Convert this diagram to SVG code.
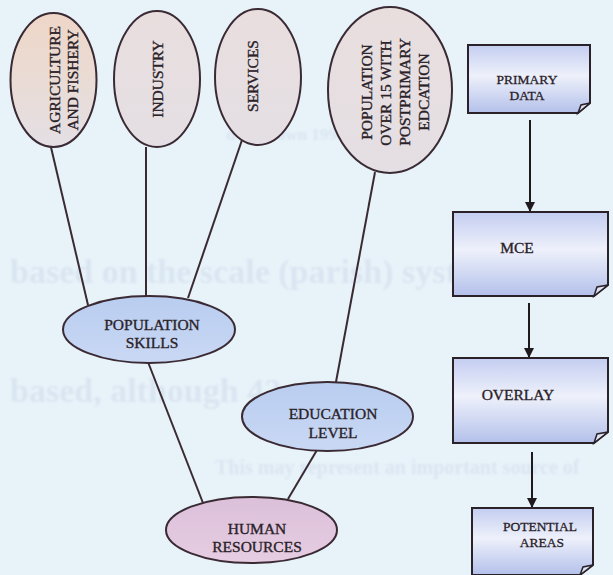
<svg xmlns="http://www.w3.org/2000/svg" width="613" height="575" viewBox="0 0 613 575">
  <defs>
    <linearGradient id="gTop" x1="0" y1="0" x2="0" y2="1">
      <stop offset="0" stop-color="#e9dede"/>
      <stop offset="1" stop-color="#e4dfe4"/>
    </linearGradient>
    <linearGradient id="gAgri" x1="0" y1="0" x2="0" y2="1">
      <stop offset="0" stop-color="#eed6c8"/>
      <stop offset="0.45" stop-color="#eadbd3"/>
      <stop offset="1" stop-color="#e4dfe5"/>
    </linearGradient>
    <linearGradient id="gBlue" x1="0" y1="0" x2="0" y2="1">
      <stop offset="0" stop-color="#b9cdf0"/>
      <stop offset="1" stop-color="#c9d8f4"/>
    </linearGradient>
    <linearGradient id="gPink" x1="0" y1="0" x2="0" y2="1">
      <stop offset="0" stop-color="#dcc0da"/>
      <stop offset="1" stop-color="#e6cde2"/>
    </linearGradient>
    <linearGradient id="gBox" x1="0" y1="0" x2="0" y2="1">
      <stop offset="0" stop-color="#c3cdf0"/>
      <stop offset="0.45" stop-color="#eef1fb"/>
      <stop offset="1" stop-color="#b3c0ea"/>
    </linearGradient>
    <filter id="soft" x="-5%" y="-20%" width="110%" height="140%">
      <feGaussianBlur stdDeviation="1.2"/>
    </filter>
    <marker id="arrow" viewBox="0 0 10 10" refX="10" refY="5" markerWidth="10" markerHeight="10" markerUnits="userSpaceOnUse" orient="auto">
      <path d="M0,0 L10,5 L0,10 Z" fill="#1e1a1e"/>
    </marker>
    <style>
      .bg { fill: #e8f2f9; }
      .ghost { font-family: "Liberation Serif", serif; font-size: 34px; font-weight: bold; fill: #d9e5f1; }
      .node { stroke: #3a2a33; stroke-width: 2; }
      .lbl { font-family: "Liberation Serif", "Times New Roman", serif; font-size: 15.5px; fill: #2a2228; stroke: #2a2228; stroke-width: 0.35; text-anchor: middle; }
      .blbl { font-family: "Liberation Serif", "Times New Roman", serif; font-size: 13.5px; fill: #2a2228; stroke: #2a2228; stroke-width: 0.3; text-anchor: middle; }
      .link { stroke: #3a2a33; stroke-width: 2; fill: none; }
      .flow { stroke: #1e1a1e; stroke-width: 2; fill: none; marker-end: url(#arrow); }
      .doc { fill: url(#gBox); stroke: #2a2228; stroke-width: 2; }
      .fold { fill: #dfe4f6; stroke: #2a2228; stroke-width: 1.5; }
    </style>
  </defs>

  <!-- paper -->
  <rect class="bg" x="0" y="0" width="613" height="575"/>

  <!-- faint printed text showing through the page -->
  <g id="page-text" filter="url(#soft)">
    <text class="ghost" x="226" y="140" style="font-size:17px">d &amp; Brown 1998).</text>
    <text class="ghost" x="10" y="283">based on the scale (parish) system</text>
    <text class="ghost" x="10" y="402">based, although 42</text>
    <text class="ghost" x="215" y="474" style="font-size:20px">This may represent an important source of</text>
  </g>

  <!-- connectors -->
  <g id="connectors">
    <line class="link" x1="50" y1="143" x2="88" y2="305"/>
    <line class="link" x1="146" y1="147" x2="146" y2="296"/>
    <line class="link" x1="242" y1="140" x2="188" y2="298"/>
    <line class="link" x1="375" y1="172" x2="336" y2="382"/>
    <line class="link" x1="148" y1="362" x2="203" y2="503"/>
    <line class="link" x1="317" y1="450" x2="288" y2="499"/>
    <line class="flow" x1="530" y1="120" x2="530" y2="212"/>
    <line class="flow" x1="529" y1="303" x2="529" y2="358"/>
    <line class="flow" x1="532" y1="452" x2="532" y2="508"/>
  </g>

  <!-- sector ellipses -->
  <g id="agriculture">
    <ellipse class="node" cx="53.5" cy="80" rx="43" ry="67" fill="url(#gAgri)"/>
    <text class="lbl" transform="translate(60,80) rotate(-90)">AGRICULTURE</text>
    <text class="lbl" transform="translate(78,80) rotate(-90)">AND FISHERY</text>
  </g>
  <g id="industry">
    <ellipse class="node" cx="157" cy="79" rx="43" ry="68" fill="url(#gTop)"/>
    <text class="lbl" transform="translate(163,79) rotate(-90)">INDUSTRY</text>
  </g>
  <g id="services">
    <ellipse class="node" cx="258" cy="77" rx="43" ry="68" fill="url(#gTop)"/>
    <text class="lbl" transform="translate(258,76) rotate(-90)">SERVICES</text>
  </g>
  <g id="postprimary">
    <ellipse class="node" cx="390" cy="90" rx="62" ry="83" fill="url(#gTop)"/>
    <text class="lbl" transform="translate(372,92) rotate(-90)">POPULATION</text>
    <text class="lbl" transform="translate(391,93) rotate(-90)">OVER 15 WITH</text>
    <text class="lbl" transform="translate(410,92) rotate(-90)">POSTPRIMARY</text>
    <text class="lbl" transform="translate(429,92) rotate(-90)">EDCATION</text>
  </g>

  <!-- aggregate ellipses -->
  <g id="population-skills">
    <ellipse class="node" cx="149" cy="329.5" rx="86" ry="33.5" fill="url(#gBlue)"/>
    <text class="lbl" x="152" y="330">POPULATION</text>
    <text class="lbl" x="152" y="348">SKILLS</text>
  </g>
  <g id="education-level">
    <ellipse class="node" cx="327.5" cy="416.5" rx="85.5" ry="34.5" fill="url(#gBlue)"/>
    <text class="lbl" x="333" y="419">EDUCATION</text>
    <text class="lbl" x="333" y="438">LEVEL</text>
  </g>
  <g id="human-resources">
    <ellipse class="node" cx="251.5" cy="530" rx="85.5" ry="33" fill="url(#gPink)"/>
    <text class="lbl" x="257" y="534">HUMAN</text>
    <text class="lbl" x="257" y="552">RESOURCES</text>
  </g>

  <!-- process documents -->
  <g id="primary-data">
    <path class="doc" d="M468,45 H590 V103 L578,113 H468 Z"/>
    <path class="fold" d="M578,113 L581,105 L590,103 Z"/>
    <text class="blbl" x="527" y="84">PRIMARY</text>
    <text class="blbl" x="527" y="100">DATA</text>
  </g>
  <g id="mce">
    <path class="doc" d="M453,212 H608 V285 L594,296 H453 Z"/>
    <path class="fold" d="M594,296 L597,287 L608,285 Z"/>
    <text class="lbl" x="517" y="253">MCE</text>
  </g>
  <g id="overlay">
    <path class="doc" d="M453,358 H608 V432 L594,443 H453 Z"/>
    <path class="fold" d="M594,443 L597,434 L608,432 Z"/>
    <text class="lbl" x="518" y="400">OVERLAY</text>
  </g>
  <g id="potential-areas">
    <path class="doc" d="M472,508 H593 V565 L580,575 H472 Z"/>
    <path class="fold" d="M580,575 L583,567 L593,565 Z"/>
    <text class="blbl" x="540" y="531">POTENTIAL</text>
    <text class="blbl" x="542" y="547">AREAS</text>
  </g>
</svg>
